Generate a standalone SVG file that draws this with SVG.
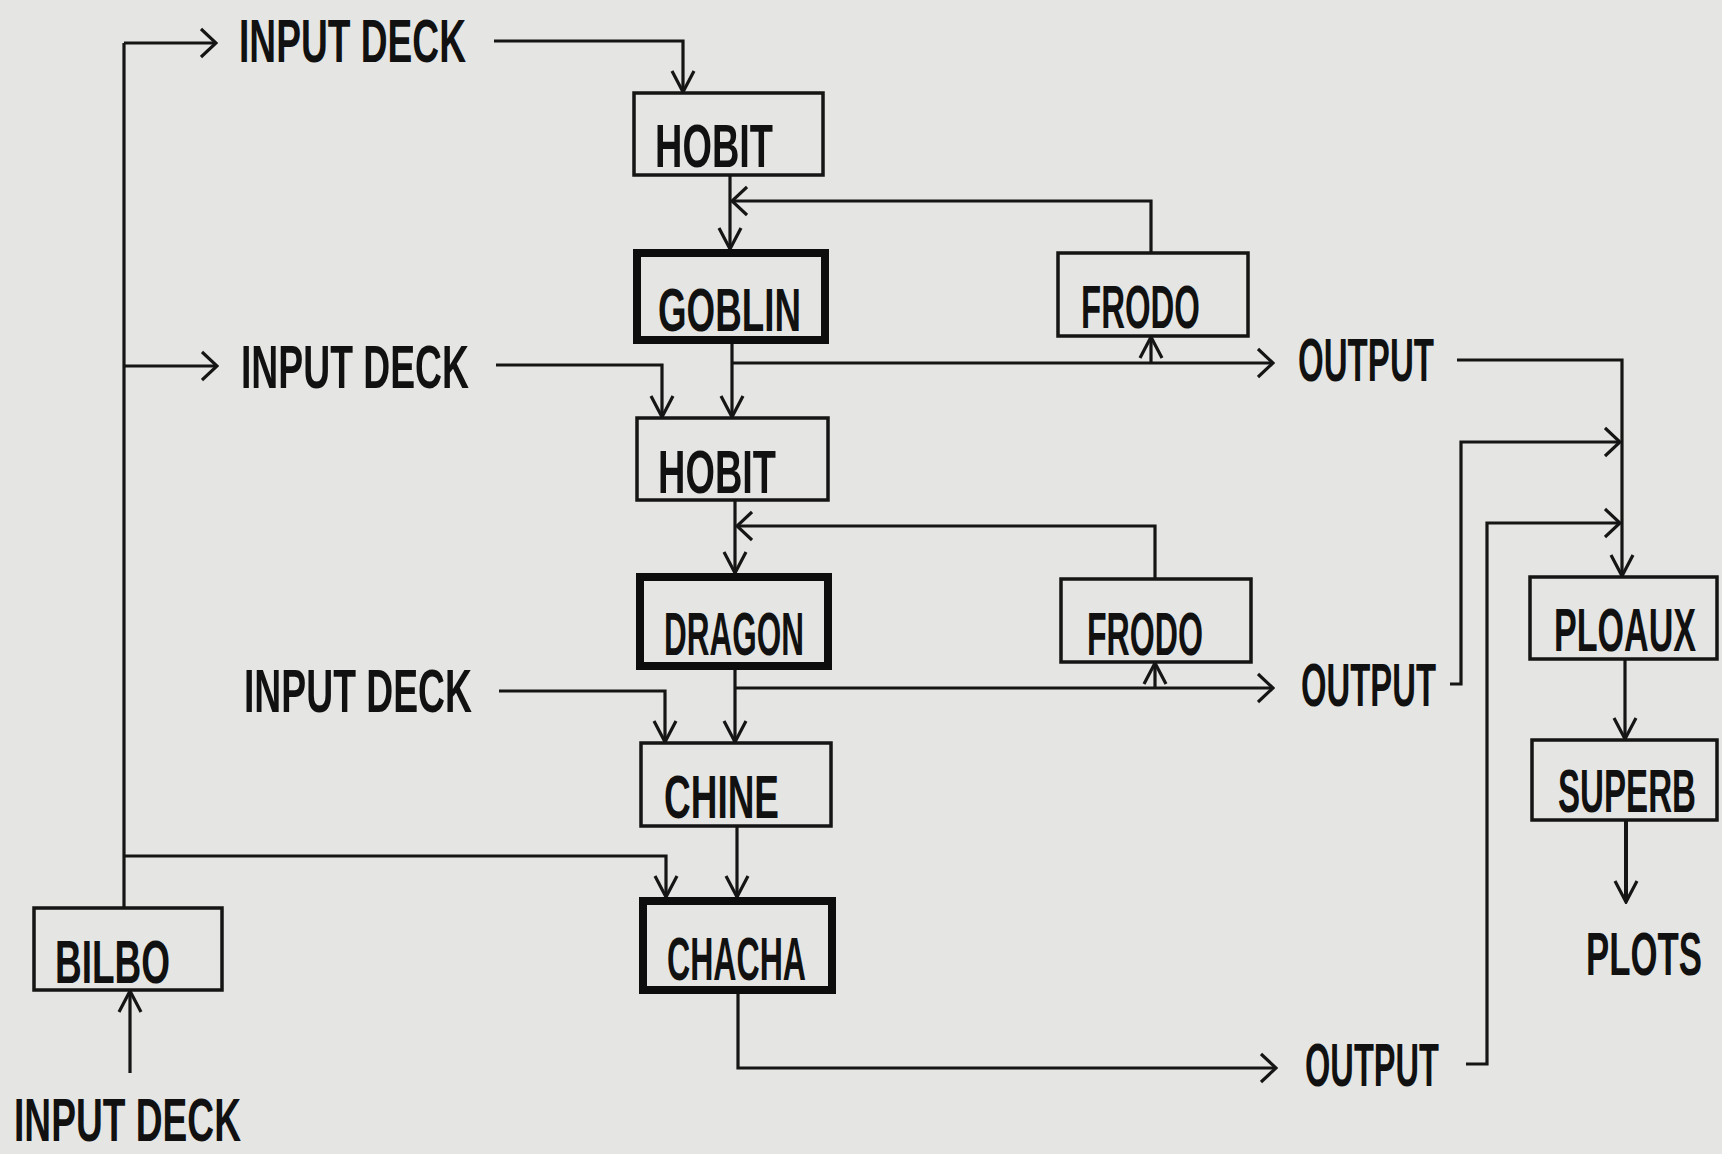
<svg xmlns="http://www.w3.org/2000/svg" width="1722" height="1154" viewBox="0 0 1722 1154">
<defs>
<style>
.bg{fill:#e5e5e3}
.box{fill:none;stroke:#151515;stroke-width:3.5}
.thick{fill:none;stroke:#0d0d0d;stroke-width:8}
.t{font-family:"Liberation Sans",Arial,sans-serif;font-size:62px;font-weight:bold;fill:#111}
.c{fill:none;stroke:#151515;stroke-width:3.2}
.v{marker-end:url(#arrV)}
.h{marker-end:url(#arrH)}
</style>
<marker id="arrV" markerUnits="userSpaceOnUse" viewBox="0 0 24 26" markerWidth="24" markerHeight="26" refX="22" refY="13" orient="auto">
<path d="M1,2 L22,13 L1,24" fill="none" stroke="#151515" stroke-width="3.2"/>
</marker>
<marker id="arrH" markerUnits="userSpaceOnUse" viewBox="0 0 18 32" markerWidth="18" markerHeight="32" refX="16" refY="16" orient="auto">
<path d="M1,2 L16,16 L1,30" fill="none" stroke="#151515" stroke-width="3.2"/>
</marker>
</defs>
<rect class="bg" x="0" y="0" width="1722" height="1154"/>

<g id="connectors">
<path class="c" d="M124,908 V43"/>
<path class="c h" d="M124,43 H216"/>
<path class="c h" d="M124,366 H217"/>
<path class="c v" d="M124,856 H666 V897"/>
<path class="c v" d="M494,41 H683 V92"/>
<path class="c v" d="M730,175 V249"/>
<path class="c h" d="M1151,253 V201 H732"/>
<path class="c v" d="M732,343 V417"/>
<path class="c h" d="M732,363 H1273"/>
<path class="c v" d="M1151,363 V337"/>
<path class="c v" d="M496,365 H662 V417"/>
<path class="c v" d="M735,500 V573"/>
<path class="c h" d="M1155,579 V526 H737"/>
<path class="c v" d="M735,669 V742"/>
<path class="c h" d="M735,688 H1273"/>
<path class="c v" d="M1155,688 V663"/>
<path class="c v" d="M499,691 H665 V742"/>
<path class="c v" d="M737,826 V897"/>
<path class="c h" d="M738,993 V1068 H1276"/>
<path class="c v" d="M130,1073 V991"/>
<path class="c v" d="M1457,360 H1622 V576"/>
<path class="c h" d="M1450,684 H1461 V442 H1620"/>
<path class="c h" d="M1466,1064 H1487 V523 H1620"/>
<path class="c v" d="M1625,659 V739"/>
<path class="c v" d="M1626,820 V902" style="stroke-width:4"/>
</g>

<g id="input-deck-1"><text class="t" x="239" y="62" textLength="227" lengthAdjust="spacingAndGlyphs">INPUT DECK</text></g>
<g id="input-deck-2"><text class="t" x="241" y="388" textLength="228" lengthAdjust="spacingAndGlyphs">INPUT DECK</text></g>
<g id="input-deck-3"><text class="t" x="244" y="712" textLength="228" lengthAdjust="spacingAndGlyphs">INPUT DECK</text></g>
<g id="input-deck-4"><text class="t" x="14" y="1141" textLength="227" lengthAdjust="spacingAndGlyphs">INPUT DECK</text></g>

<g id="hobit-1"><rect class="box" x="634" y="93" width="189" height="82"/><text class="t" x="655" y="167" textLength="118" lengthAdjust="spacingAndGlyphs">HOBIT</text></g>
<g id="goblin"><rect class="thick" x="637" y="253" width="188" height="87"/><text class="t" x="658" y="331" textLength="143" lengthAdjust="spacingAndGlyphs">GOBLIN</text></g>
<g id="frodo-1"><rect class="box" x="1058" y="253" width="190" height="83"/><text class="t" x="1081" y="328" textLength="119" lengthAdjust="spacingAndGlyphs">FRODO</text></g>
<g id="output-1"><text class="t" x="1298" y="381" textLength="136" lengthAdjust="spacingAndGlyphs">OUTPUT</text></g>
<g id="hobit-2"><rect class="box" x="637" y="418" width="191" height="82"/><text class="t" x="658" y="493" textLength="118" lengthAdjust="spacingAndGlyphs">HOBIT</text></g>
<g id="dragon"><rect class="thick" x="640" y="577" width="188" height="89"/><text class="t" x="664" y="655" textLength="140" lengthAdjust="spacingAndGlyphs">DRAGON</text></g>
<g id="frodo-2"><rect class="box" x="1061" y="579" width="190" height="83"/><text class="t" x="1087" y="655" textLength="116" lengthAdjust="spacingAndGlyphs">FRODO</text></g>
<g id="output-2"><text class="t" x="1301" y="706" textLength="135" lengthAdjust="spacingAndGlyphs">OUTPUT</text></g>
<g id="chine"><rect class="box" x="641" y="743" width="190" height="83"/><text class="t" x="664" y="818" textLength="115" lengthAdjust="spacingAndGlyphs">CHINE</text></g>
<g id="chacha"><rect class="thick" x="643" y="901" width="189" height="89"/><text class="t" x="667" y="980" textLength="139" lengthAdjust="spacingAndGlyphs">CHACHA</text></g>
<g id="output-3"><text class="t" x="1305" y="1086" textLength="134" lengthAdjust="spacingAndGlyphs">OUTPUT</text></g>
<g id="bilbo"><rect class="box" x="34" y="908" width="188" height="82"/><text class="t" x="55" y="983" textLength="115" lengthAdjust="spacingAndGlyphs">BILBO</text></g>
<g id="ploaux"><rect class="box" x="1530" y="577" width="187" height="82"/><text class="t" transform="translate(1554,651) scale(0.55,1)">PLOAUX</text></g>
<g id="superb"><rect class="box" x="1532" y="740" width="185" height="80"/><text class="t" transform="translate(1558,812) scale(0.534,1)">SUPERB</text></g>
<g id="plots"><text class="t" transform="translate(1586,975) scale(0.561,1)">PLOTS</text></g>
</svg>
